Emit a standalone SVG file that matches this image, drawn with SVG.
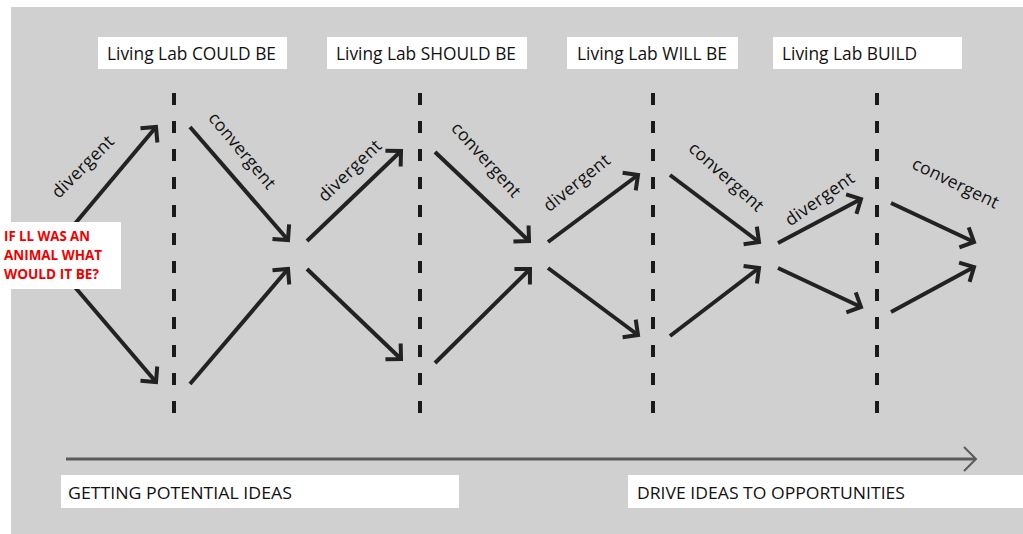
<svg xmlns="http://www.w3.org/2000/svg" width="1023" height="534" viewBox="0 0 1023 534">
<defs>
<style>
.box{fill:#ffffff}
.title{font-family:"Open Sans","Noto Sans",sans-serif;font-size:18.5px;fill:#111}
.foot{font-family:"Open Sans","Noto Sans",sans-serif;font-size:17px;fill:#111}
.red{font-family:"Open Sans","Noto Sans",sans-serif;font-size:15px;font-weight:bold;fill:#f00000}
.lbl{font-family:"Open Sans","Noto Sans",sans-serif;font-size:17.5px;fill:#111;text-anchor:middle;dominant-baseline:central}
.arr{stroke:#222;stroke-width:4;fill:none;marker-end:url(#head)}
.dash{stroke:#1a1a1a;stroke-width:4;stroke-dasharray:12 16;fill:none}
</style>
<marker id="head" markerUnits="userSpaceOnUse" orient="auto" refX="0" refY="0" markerWidth="40" markerHeight="40" viewBox="-20 -20 40 40" overflow="visible">
<path d="M-11,-11 L0,0 L-11,11" fill="none" stroke="#222" stroke-width="4" stroke-linejoin="miter"/>
</marker>
</defs>
<rect x="0" y="0" width="1023" height="534" fill="#ffffff"/>
<rect x="11" y="7" width="1012" height="527" fill="#d0d0d0"/>

<g id="dividers">
<line class="dash" x1="174" y1="93" x2="174" y2="413"/>
<line class="dash" x1="420" y1="93" x2="420" y2="413"/>
<line class="dash" x1="653" y1="93" x2="653" y2="413"/>
<line class="dash" x1="877" y1="93" x2="877" y2="413"/>
</g>

<g id="connectors">
<line class="arr" x1="68" y1="232" x2="156" y2="127"/>
<line class="arr" x1="68" y1="279" x2="156" y2="382"/>
<line class="arr" x1="190" y1="127" x2="288" y2="240"/>
<line class="arr" x1="190" y1="384" x2="288" y2="269"/>
<line class="arr" x1="307" y1="241" x2="401" y2="151"/>
<line class="arr" x1="307" y1="269" x2="401" y2="359"/>
<line class="arr" x1="435" y1="152" x2="529" y2="241"/>
<line class="arr" x1="435" y1="363" x2="530" y2="269"/>
<line class="arr" x1="548" y1="242" x2="638" y2="175"/>
<line class="arr" x1="548" y1="268" x2="638" y2="335"/>
<line class="arr" x1="670" y1="175" x2="759" y2="242"/>
<line class="arr" x1="670" y1="336" x2="759" y2="268"/>
<line class="arr" x1="778" y1="243" x2="861" y2="199"/>
<line class="arr" x1="778" y1="268" x2="861" y2="307"/>
<line class="arr" x1="891" y1="203" x2="974" y2="242"/>
<line class="arr" x1="891" y1="312" x2="974" y2="267"/>
<line x1="66" y1="459" x2="975" y2="459" stroke="#5a5a5a" stroke-width="3"/>
<polyline points="964,447 976,459 964,471" fill="none" stroke="#5a5a5a" stroke-width="2"/>
</g>

<g id="edge-labels">
<text class="lbl" transform="translate(82,166) rotate(-45)" textLength="80">divergent</text>
<text class="lbl" transform="translate(243,150) rotate(50)" textLength="94">convergent</text>
<text class="lbl" transform="translate(349,170) rotate(-44)" textLength="80">divergent</text>
<text class="lbl" transform="translate(487,159) rotate(48)" textLength="94">convergent</text>
<text class="lbl" transform="translate(576,182) rotate(-39)" textLength="80">divergent</text>
<text class="lbl" transform="translate(727,176) rotate(42)" textLength="94">convergent</text>
<text class="lbl" transform="translate(819,198) rotate(-35)" textLength="80">divergent</text>
<text class="lbl" transform="translate(956,182) rotate(26)" textLength="94">convergent</text>
</g>

<g id="node-could">
<rect class="box" x="98" y="37" width="189" height="32"/>
<text class="title" x="107" y="60" textLength="169" lengthAdjust="spacingAndGlyphs">Living Lab COULD BE</text>
</g>
<g id="node-should">
<rect class="box" x="327" y="37" width="200" height="32"/>
<text class="title" x="336" y="60" textLength="180" lengthAdjust="spacingAndGlyphs">Living Lab SHOULD BE</text>
</g>
<g id="node-will">
<rect class="box" x="567" y="37" width="171" height="32"/>
<text class="title" x="577" y="60" textLength="150" lengthAdjust="spacingAndGlyphs">Living Lab WILL BE</text>
</g>
<g id="node-build">
<rect class="box" x="773" y="37" width="189" height="32"/>
<text class="title" x="782" y="60" textLength="135" lengthAdjust="spacingAndGlyphs">Living Lab BUILD</text>
</g>

<g id="node-question">
<rect class="box" x="0" y="222" width="121" height="67"/>
<text class="red" x="4" y="241" textLength="86" lengthAdjust="spacingAndGlyphs">IF LL WAS AN</text>
<text class="red" x="4" y="260" textLength="98" lengthAdjust="spacingAndGlyphs">ANIMAL WHAT</text>
<text class="red" x="4" y="279" textLength="95" lengthAdjust="spacingAndGlyphs">WOULD IT BE?</text>
</g>

<g id="node-potential">
<rect class="box" x="61" y="475" width="398" height="33"/>
<text class="foot" x="68" y="499" textLength="224" lengthAdjust="spacingAndGlyphs">GETTING POTENTIAL IDEAS</text>
</g>
<g id="node-drive">
<rect class="box" x="628" y="475" width="395" height="33"/>
<text class="foot" x="637" y="499" textLength="268" lengthAdjust="spacingAndGlyphs">DRIVE IDEAS TO OPPORTUNITIES</text>
</g>
</svg>
